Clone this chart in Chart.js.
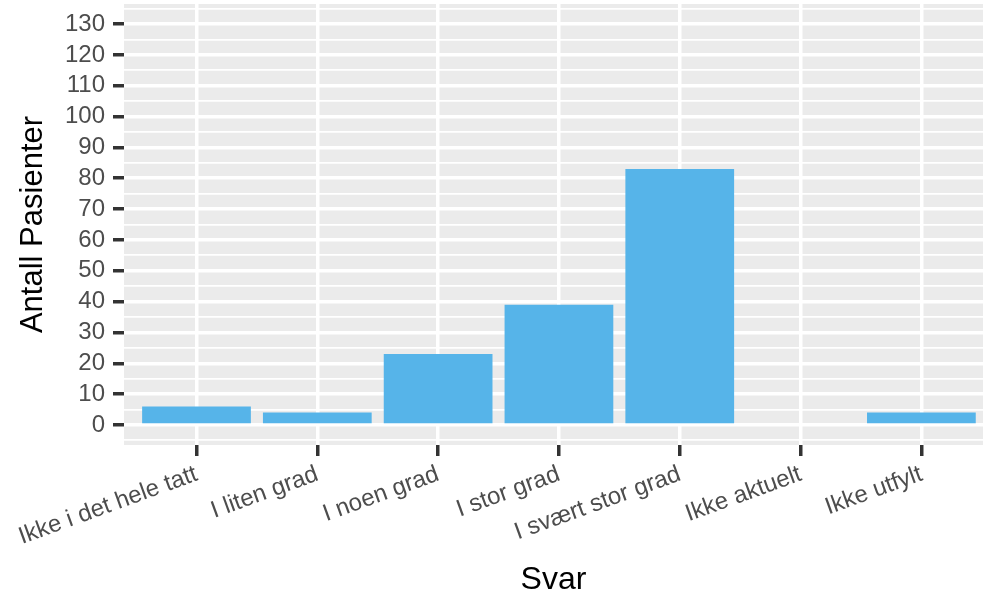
<!DOCTYPE html>
<html>
<head>
<meta charset="utf-8">
<script src="https://cdn.jsdelivr.net/npm/chart.js@4.4.1/dist/chart.umd.min.js"></script>
<style>
html,body{margin:0;padding:0;background:#fff;}
canvas{display:block;}
</style>
</head>
<body>
<canvas id="c" width="983" height="600"></canvas>
<script>
const categories = ["Ikke i det hele tatt", "I liten grad", "I noen grad", "I stor grad", "I svært stor grad", "Ikke aktuelt", "Ikke utfylt"];
const counts = [6, 4, 23, 39, 83, 0, 4];
const yTickLabels = [0, 10, 20, 30, 40, 50, 60, 70, 80, 90, 100, 110, 120, 130];
const xTitle = "Svar";
const yTitle = "Antall Pasienter";

const FONT = "'Liberation Sans', Arial, sans-serif";
const PANEL = '#EBEBEB';
const TICKC = '#333333';
const LABELC = '#4D4D4D';

// minor grid positions midway between major ticks (plus one beyond each end)
const yMinor = [yTickLabels[0] - 5].concat(yTickLabels.map(v => v + 5));
const yAll = yTickLabels.concat(yMinor).sort((a, b) => a - b);

const panelBg = {
  id: 'panelBg',
  beforeDraw(chart) {
    const a = chart.chartArea, ctx = chart.ctx;
    ctx.save();
    ctx.fillStyle = PANEL;
    ctx.fillRect(a.left, a.top, a.right - a.left, a.bottom - a.top);
    ctx.restore();
  }
};

new Chart(document.getElementById('c'), {
  type: 'bar',
  data: {
    datasets: [{
      data: counts.map((v, i) => ({ x: i, y: v })),
      backgroundColor: '#56B4E9',
      borderWidth: 0,
      categoryPercentage: 1,
      barPercentage: 0.9
    }]
  },
  plugins: [panelBg],
  options: {
    responsive: false,
    animation: false,
    devicePixelRatio: 1,
    layout: { padding: { top: 4, right: 0, bottom: 0, left: 0 } },
    plugins: { legend: { display: false }, tooltip: { enabled: false } },
    scales: {
      x: {
        type: 'linear',
        min: -0.6,
        max: 6.51,
        offset: false,
        afterFit(s) { s.height = 155; s.paddingLeft = 0; s.paddingRight = 0; },
        afterBuildTicks(s) { s.ticks = categories.map((c, i) => ({ value: i })); },
        border: { display: false },
        grid: {
          offset: false,
          color: '#FFFFFF',
          lineWidth: 3.5,
          tickColor: TICKC,
          tickWidth: 3.5,
          tickLength: 11,
          drawOnChartArea: true
        },
        ticks: {
          autoSkip: false,
          minRotation: 20,
          maxRotation: 20,
          padding: 4,
          color: LABELC,
          font: { family: FONT, size: 24 },
          callback: (v) => categories[v]
        },
        title: {
          display: true,
          text: xTitle,
          color: '#000000',
          font: { family: FONT, size: 32 },
          padding: { top: 0, bottom: 1 }
        }
      },
      y: {
        type: 'linear',
        min: -6.5,
        max: 136.5,
        afterFit(s) { s.width = 124; s.paddingTop = 0; s.paddingBottom = 0; },
        afterBuildTicks(s) { s.ticks = yAll.map(v => ({ value: v })); },
        border: { display: false },
        grid: {
          color: '#FFFFFF',
          lineWidth: (ctx) => (yTickLabels.includes(ctx.tick && ctx.tick.value) ? 3.5 : 1.75),
          tickColor: (ctx) => (yTickLabels.includes(ctx.tick && ctx.tick.value) ? TICKC : 'rgba(0,0,0,0)'),
          tickWidth: 3.5,
          tickLength: 11
        },
        ticks: {
          autoSkip: false,
          padding: 8,
          color: LABELC,
          font: { family: FONT, size: 24 },
          callback: (v) => (yTickLabels.includes(v) ? String(v) : '')
        },
        title: {
          display: true,
          text: yTitle,
          color: '#000000',
          font: { family: FONT, size: 31 },
          padding: { top: 15, bottom: 0 }
        }
      }
    }
  }
});
</script>
</body>
</html>
